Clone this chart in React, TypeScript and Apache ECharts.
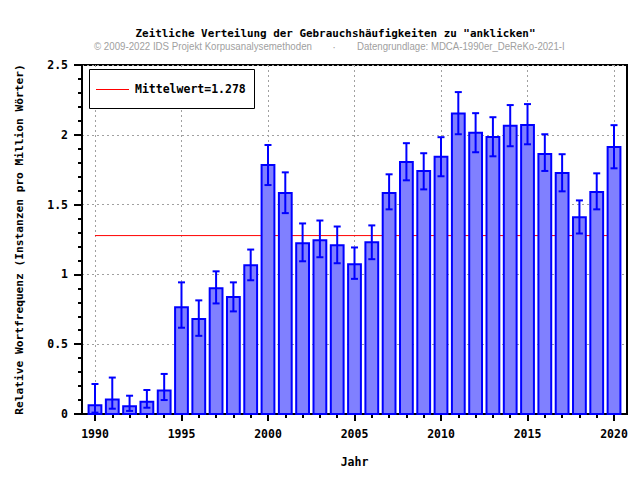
import React, { useEffect, useRef } from 'react';
import * as echarts from 'echarts';

const years = [1990, 1991, 1992, 1993, 1994, 1995, 1996, 1997, 1998, 1999, 2000, 2001, 2002, 2003, 2004, 2005, 2006, 2007, 2008, 2009, 2010, 2011, 2012, 2013, 2014, 2015, 2016, 2017, 2018, 2019, 2020];
const values = [0.062, 0.103, 0.055, 0.088, 0.168, 0.764, 0.680, 0.900, 0.838, 1.065, 1.784, 1.583, 1.224, 1.245, 1.209, 1.073, 1.231, 1.583, 1.806, 1.741, 1.842, 2.153, 2.014, 1.985, 2.064, 2.071, 1.863, 1.726, 1.410, 1.590, 1.913];
const lower = [0.010, 0.038, 0.022, 0.045, 0.100, 0.618, 0.560, 0.792, 0.735, 0.958, 1.640, 1.439, 1.094, 1.123, 1.080, 0.968, 1.109, 1.466, 1.674, 1.609, 1.703, 2.004, 1.875, 1.846, 1.918, 1.932, 1.741, 1.595, 1.293, 1.466, 1.760];
const upper = [0.215, 0.261, 0.131, 0.172, 0.287, 0.943, 0.814, 1.022, 0.943, 1.178, 1.927, 1.731, 1.365, 1.386, 1.343, 1.193, 1.351, 1.717, 1.940, 1.868, 1.983, 2.306, 2.155, 2.126, 2.213, 2.220, 2.004, 1.861, 1.530, 1.724, 2.069];
const meanValue = 1.278;
const meanRange = [1990, 2020];
const xTickValues = [1990, 1995, 2000, 2005, 2010, 2015, 2020];

const titleText = 'Zeitliche Verteilung der Gebrauchshäufigkeiten zu "anklicken"';
const subLeft = '© 2009-2022 IDS Projekt Korpusanalysemethoden';
const subDot = '·';
const subRight = 'Datengrundlage: MDCA-1990er_DeReKo-2021-I';
const legendText = 'Mittelwert=' + meanValue.toFixed(3);
const xName = 'Jahr';
const yName = 'Relative Wortfrequenz (Instanzen pro Million Wörter)';

const MONO = '"DejaVu Sans Mono", monospace';
const SANS = '"Liberation Sans", Arial, sans-serif';
const HALF_W = 0.37;
const RED = '#ff0000';

export default function App() {
  const ref = useRef<HTMLDivElement>(null);
  useEffect(() => {
    document.body.style.margin = '0';
    const chart = echarts.init(ref.current!, null, { renderer: 'svg' });
    const barData = years.map((y, i) => [y, values[i], lower[i], upper[i]]);
    const option: any = {
      animation: false,
      backgroundColor: '#fff',
      grid: {
        left: 82, right: 13, top: 65, bottom: 66,
        show: true, borderColor: '#000', borderWidth: 2, backgroundColor: 'transparent',
      },
      xAxis: {
        type: 'value', min: 1989.25, max: 2020.75,
        name: xName, nameLocation: 'middle', nameGap: 42,
        nameTextStyle: { fontFamily: MONO, fontWeight: 'bold', fontSize: 11.5, color: '#000' },
        axisLine: { show: true, onZero: false, lineStyle: { color: '#000', width: 2 } },
        axisTick: { show: true, customValues: xTickValues, length: 7, lineStyle: { color: '#000', width: 2 } },
        minorTick: { show: true, splitNumber: 5, length: 4, lineStyle: { color: '#000', width: 2 } },
        axisLabel: {
          customValues: xTickValues, margin: 14,
          formatter: (v: number) => String(v),
          fontFamily: MONO, fontWeight: 'bold', fontSize: 11.5, color: '#000',
        },
        splitLine: { show: true, lineStyle: { color: '#a0a0a0', width: 1, type: [2, 3] } },
      },
      yAxis: {
        type: 'value', min: 0, max: 2.5, interval: 0.5,
        name: yName, nameLocation: 'middle', nameGap: 57,
        nameTextStyle: { fontFamily: MONO, fontWeight: 'bold', fontSize: 11.2, color: '#000' },
        axisLine: { show: true, lineStyle: { color: '#000', width: 2 } },
        axisTick: { show: true, length: 8, lineStyle: { color: '#000', width: 2 } },
        minorTick: { show: true, splitNumber: 5, length: 4, lineStyle: { color: '#000', width: 2 } },
        axisLabel: { margin: 14, fontFamily: MONO, fontWeight: 'bold', fontSize: 11.5, color: '#000' },
        splitLine: { show: true, lineStyle: { color: '#a0a0a0', width: 1, type: [2, 3] } },
      },
      series: [
        {
          type: 'line', name: legendText, z: 1, silent: true, symbol: 'none', color: RED,
          data: meanRange.map((x) => [x, meanValue]),
          itemStyle: { color: RED },
          lineStyle: { color: RED, width: 1, opacity: 1 },
        },
        {
          type: 'custom', name: 'Frequenz', z: 3, silent: true,
          data: barData,
          encode: { x: 0, y: 1 },
          renderItem: (params: any, api: any) => {
            const yr = api.value(0), v = api.value(1), lo = api.value(2), hi = api.value(3);
            const a = api.coord([yr - HALF_W, v]);
            const b = api.coord([yr + HALF_W, 0]);
            const c = api.coord([yr, hi]);
            const d = api.coord([yr, lo]);
            const st = { stroke: '#0000ff', lineWidth: 2 };
            return {
              type: 'group',
              children: [
                { type: 'rect', shape: { x: a[0], y: a[1], width: b[0] - a[0], height: b[1] - a[1] }, style: { fill: '#8080ff', stroke: '#0000ff', lineWidth: 2 } },
                { type: 'line', shape: { x1: c[0], y1: c[1], x2: d[0], y2: d[1] }, style: st },
                { type: 'line', shape: { x1: c[0] - 3.5, y1: c[1], x2: c[0] + 3.5, y2: c[1] }, style: st },
                { type: 'line', shape: { x1: d[0] - 3.5, y1: d[1], x2: d[0] + 3.5, y2: d[1] }, style: st },
              ],
            };
          },
        },
      ],
      graphic: [
        { type: 'text', x: 335.5, y: 33, z: 100, style: { text: titleText, font: `bold 10.9px ${MONO}`, fill: '#000', textAlign: 'center', textVerticalAlign: 'middle' } },
        { type: 'text', x: 94, y: 46.5, scaleX: 0.883, z: 100, style: { text: subLeft, font: `11px ${SANS}`, fill: '#a0a0a0', textAlign: 'left', textVerticalAlign: 'middle' } },
        { type: 'text', x: 334, y: 46.5, z: 100, style: { text: subDot, font: `11px ${SANS}`, fill: '#a0a0a0', textAlign: 'center', textVerticalAlign: 'middle' } },
        { type: 'text', x: 357, y: 46.5, scaleX: 0.877, z: 100, style: { text: subRight, font: `11px ${SANS}`, fill: '#a0a0a0', textAlign: 'left', textVerticalAlign: 'middle' } },
        { type: 'rect', z: 100, shape: { x: 89.5, y: 69.5, width: 165, height: 39 }, style: { fill: '#fff', stroke: '#000', lineWidth: 1 } },
        { type: 'line', z: 101, shape: { x1: 96, y1: 89.5, x2: 129, y2: 89.5 }, style: { stroke: RED, lineWidth: 1 } },
        { type: 'text', x: 135, y: 89, z: 101, style: { text: legendText, font: `bold 11.5px ${MONO}`, fill: '#000', textAlign: 'left', textVerticalAlign: 'middle' } },
      ],
    };
    chart.setOption(option);
    return () => chart.dispose();
  }, []);
  return <div ref={ref} style={{ width: 640, height: 480 }} />;
}
